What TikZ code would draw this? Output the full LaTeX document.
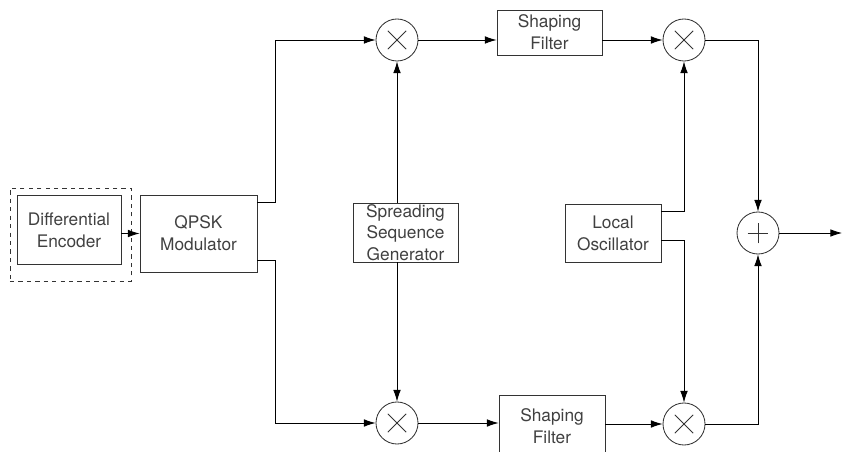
\documentclass[tikz,border=0pt]{standalone}
\usepackage{fontspec}
\setmainfont{TeX Gyre Heros}
\usetikzlibrary{positioning, calc, arrows.meta, fit}

\begin{document}
\begin{tikzpicture}[x=0.025cm, y=-0.025cm, line width=0.6pt, >={Latex[length=2.9mm, width=1.9mm]}, font=\fontsize{12.3}{15.5}\selectfont]
\tikzstyle{block}=[rectangle, draw=black!80, text=black!75, align=center, inner sep=0pt]
\tikzstyle{junction}=[circle, draw=black!80, minimum size=1.05cm, inner sep=0pt]
\tikzstyle{mixer}=[junction, path picture={
  \draw[black!80] ($(path picture bounding box.center)+(-0.23cm,-0.23cm)$) -- ($(path picture bounding box.center)+(0.23cm,0.23cm)$);
  \draw[black!80] ($(path picture bounding box.center)+(-0.23cm,0.23cm)$) -- ($(path picture bounding box.center)+(0.23cm,-0.23cm)$);}]
\tikzstyle{adder}=[junction, path picture={
  \draw[black!80] ($(path picture bounding box.center)+(-0.26cm,0)$) -- ($(path picture bounding box.center)+(0.26cm,0)$);
  \draw[black!80] ($(path picture bounding box.center)+(0,-0.26cm)$) -- ($(path picture bounding box.center)+(0,0.26cm)$);}]
\useasboundingbox (0,0) rectangle (842,452);
\clip (0,0) rectangle (842,452);
%%
\node (frame) at (70.5,234.5) [block, dashed, minimum width=3.025cm, minimum height=2.325cm] {};
\node (enc) at (69,230) [block, minimum width=2.6cm, minimum height=1.725cm] {Differential\\Encoder};
\node (qpsk) at (198.5,233.5) [block, minimum width=2.925cm, minimum height=1.925cm] {QPSK\\Modulator};
\node (sprd) at (405.5,232.5) [block, minimum width=2.625cm, minimum height=1.475cm] {Spreading\\Sequence\\Generator};
\node (osc) at (613,233) [block, minimum width=2.4cm, minimum height=1.45cm] {Local\\Oscillator};
\node (filt1) at (549.5,32.5) [block, minimum width=2.625cm, minimum height=1.125cm] {Shaping\\Filter};
\node (filt2) at (552,426.5) [block, minimum width=2.65cm, minimum height=1.575cm] {Shaping\\Filter};

\node (mix1) at (397,40) [mixer] {};
\node (mix2) at (684,40) [mixer] {};
\node (mix3) at (397,423) [mixer] {};
\node (mix4) at (684,424) [mixer] {};
\node (sum) at (758,233) [adder] {};
\coordinate (out) at (842,233);

\draw[->] (enc.east |- qpsk.west) -- (qpsk.west);
\draw[->] ($(qpsk.north east)+(0,8)$) -- ++(18,0) |- (mix1.west);
\draw[->] ($(qpsk.south east)+(0,-12)$) -- ++(18,0) |- (mix3.west);
\draw[->] (mix1.east) -- (mix1.east -| filt1.west);
\draw[->] (filt1.east |- mix2.west) -- (mix2.west);
\draw[->] (mix3.east) -- (mix3.east -| filt2.west);
\draw[->] (filt2.east |- mix4.west) -- (mix4.west);
\draw[->] (mix2.east) -| (sum.north);
\draw[->] (mix4.east) -| (sum.south);
\draw[->] (sprd.north -| mix1.south) -- (mix1.south);
\draw[->] (sprd.south -| mix3.north) -- (mix3.north);
\draw[->] ($(osc.north east)+(0,8)$) -| (mix2.south);
\draw[->] ($(osc.south east)+(0,-22)$) -| (mix4.north);
\draw[->] (sum.east) -- (out);
\end{tikzpicture}
\end{document}
